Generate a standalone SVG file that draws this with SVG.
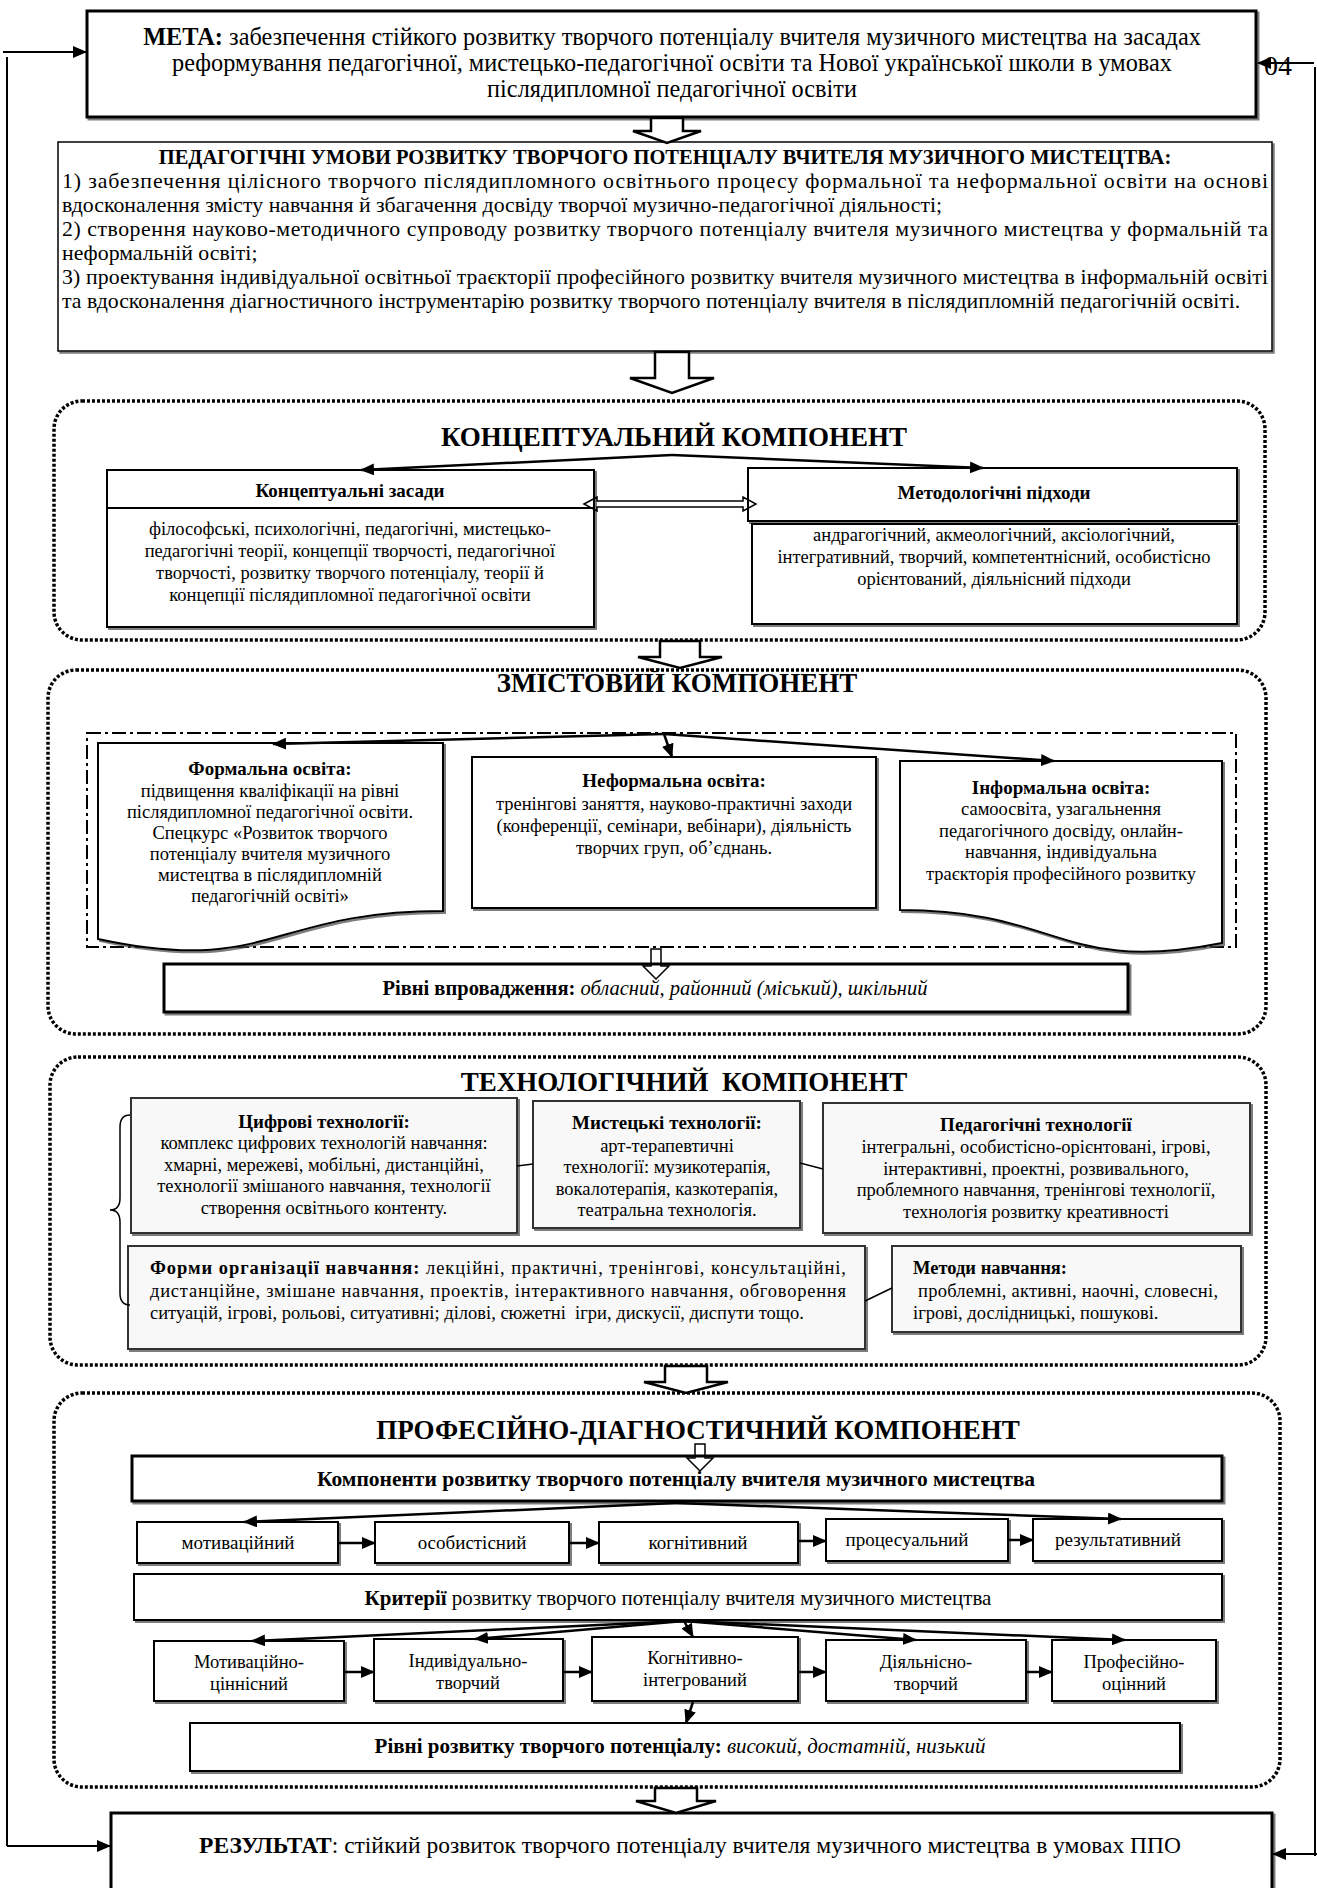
<svg xmlns="http://www.w3.org/2000/svg" width="1317" height="1888" viewBox="0 0 1317 1888">
<defs>
<style>
text{font-family:"Liberation Serif","Times New Roman",serif;fill:#000}
.b{font-weight:bold}
.i{font-style:italic}
.m{text-anchor:middle}
.box{fill:#fff;stroke:#000;stroke-width:2;filter:url(#sh)}
.thk{fill:#fff;stroke:#000;stroke-width:3;filter:url(#sh)}
.tb{fill:#f8f8f8;stroke:#333;stroke-width:2;filter:url(#sh)}
.dot{fill:none;stroke:#000;stroke-width:3.5;stroke-dasharray:3 2}
.dd{fill:none;stroke:#000;stroke-width:2;stroke-dasharray:14 4 3 4}
.con{fill:none;stroke:#000;stroke-width:2.5}
.thin{fill:none;stroke:#000;stroke-width:1.5}
.fb{fill:none;stroke:#000;stroke-width:2}
.blk{fill:#fff;stroke:#000;stroke-width:2.5}
.f18{font-size:18.5px}
.f19{font-size:19px}
.f20{font-size:20.5px}
.f21{font-size:21px}
.ped{font-size:21.8px}
.ttl{font-size:27px;font-weight:bold}
</style>
<filter id="sh" x="-5%" y="-10%" width="115%" height="130%"><feDropShadow dx="2" dy="2" stdDeviation="0.6" flood-color="#444" flood-opacity="0.7"/></filter>
<marker id="ah" viewBox="0 0 14 12" refX="13" refY="6" markerWidth="14" markerHeight="12" markerUnits="userSpaceOnUse" orient="auto"><path d="M0,0 L14,6 L0,12 z" fill="#000"/></marker>
</defs>
<rect width="1317" height="1888" fill="#fff"/>

<g id="meta">
  <rect class="thk" x="87" y="11" width="1169" height="106"/>
  <text class="m" x="672" y="45" style="font-size:24.3px"><tspan class="b">МЕТА:</tspan> забезпечення стійкого розвитку творчого потенціалу вчителя музичного мистецтва на засадах</text>
  <text class="m" x="672" y="71" style="font-size:24.3px">реформування педагогічної, мистецько-педагогічної освіти та Нової української школи в умовах</text>
  <text class="m" x="672" y="97" style="font-size:24.3px">післядипломної педагогічної освіти</text>
</g>
<g id="page-number">
  <text x="1264" y="75" style="font-size:28px">04</text>
</g>

<g id="conditions">
  <rect class="box" x="58" y="142" width="1214" height="209" style="stroke-width:1.5"/>
  <text class="m b f20" x="665" y="164">ПЕДАГОГІЧНІ УМОВИ РОЗВИТКУ ТВОРЧОГО ПОТЕНЦІАЛУ ВЧИТЕЛЯ МУЗИЧНОГО МИСТЕЦТВА:</text>
  <text class="ped" x="62" y="188" textLength="1206" lengthAdjust="spacing">1) забезпечення цілісного творчого післядипломного освітнього процесу формальної та неформальної освіти на основі</text>
  <text class="ped" x="62" y="212">вдосконалення змісту навчання й збагачення досвіду творчої музично-педагогічної діяльності;</text>
  <text class="ped" x="62" y="236" textLength="1206" lengthAdjust="spacing">2) створення науково-методичного супроводу розвитку творчого потенціалу вчителя музичного мистецтва у формальній та</text>
  <text class="ped" x="62" y="260">неформальній освіті;</text>
  <text class="ped" x="62" y="284" textLength="1206" lengthAdjust="spacing">3) проектування індивідуальної освітньої траєкторії професійного розвитку вчителя музичного мистецтва в інформальній освіті</text>
  <text class="ped" x="62" y="308">та вдосконалення діагностичного інструментарію розвитку творчого потенціалу вчителя в післядипломній педагогічній освіті.</text>
</g>

<g id="conceptual">
  <rect class="dot" x="54" y="401" width="1211" height="239" rx="28"/>
  <text class="m ttl" x="674" y="446">КОНЦЕПТУАЛЬНИЙ КОМПОНЕНТ</text>
</g>
<g id="conceptual-basis">
  <rect class="box" x="107" y="470" width="487" height="38"/>
  <rect class="box" x="107" y="508" width="487" height="119"/>
  <text class="m b f19" x="350" y="497">Концептуальні засади</text>
  <text class="m f18" x="350" y="535">філософські, психологічні, педагогічні, мистецько-</text>
  <text class="m f18" x="350" y="557">педагогічні теорії, концепції творчості, педагогічної</text>
  <text class="m f18" x="350" y="579">творчості, розвитку творчого потенціалу, теорії й</text>
  <text class="m f18" x="350" y="601">концепції післядипломної педагогічної освіти</text>
</g>
<g id="methodological-approaches">
  <rect class="box" x="748" y="468" width="489" height="53"/>
  <rect class="box" x="752" y="524" width="485" height="100"/>
  <text class="m b f19" x="994" y="499">Методологічні підходи</text>
  <text class="m f18" x="994" y="541">андрагогічний, акмеологічний, аксіологічний,</text>
  <text class="m f18" x="994" y="563">інтегративний, творчий, компетентнісний, особистісно</text>
  <text class="m f18" x="994" y="585">орієнтований, діяльнісний підходи</text>
</g>

<g id="content">
  <rect class="dot" x="48" y="670" width="1218" height="364" rx="28"/>
  <text class="m ttl" x="677" y="692">ЗМІСТОВИЙ КОМПОНЕНТ</text>
  <rect class="dd" x="87" y="733" width="1149" height="214"/>
</g>
<g id="formal">
  <path class="box" d="M98,743 H443 V911 C270,911 270,976 98,939 Z"/>
  <text class="m b f19" x="270" y="775">Формальна освіта:</text>
  <text class="m f18" x="270" y="797">підвищення кваліфікації на рівні</text>
  <text class="m f18" x="270" y="818">післядипломної педагогічної освіти.</text>
  <text class="m f18" x="270" y="839">Спецкурс «Розвиток творчого</text>
  <text class="m f18" x="270" y="860">потенціалу вчителя музичного</text>
  <text class="m f18" x="270" y="881">мистецтва в післядипломній</text>
  <text class="m f18" x="270" y="902">педагогічній освіті»</text>
</g>
<g id="nonformal">
  <rect class="box" x="472" y="757" width="404" height="151"/>
  <text class="m b f19" x="674" y="787">Неформальна освіта:</text>
  <text class="m f18" x="674" y="810">тренінгові заняття, науково-практичні заходи</text>
  <text class="m f18" x="674" y="832">(конференції, семінари, вебінари), діяльність</text>
  <text class="m f18" x="674" y="854">творчих груп, об’єднань.</text>
</g>
<g id="informal">
  <path class="box" d="M900,761 H1222 V943 C1061,975 1061,910 900,910 Z"/>
  <text class="m b f19" x="1061" y="794">Інформальна освіта:</text>
  <text class="m f18" x="1061" y="815">самоосвіта, узагальнення</text>
  <text class="m f18" x="1061" y="837">педагогічного досвіду, онлайн-</text>
  <text class="m f18" x="1061" y="858">навчання, індивідуальна</text>
  <text class="m f18" x="1061" y="880">траєкторія професійного розвитку</text>
</g>
<g id="implementation-levels">
  <rect class="thk" x="164" y="964" width="964" height="48"/>
  <text class="m f20" x="655" y="995"><tspan class="b">Рівні впровадження:</tspan> <tspan class="i">обласний, районний (міський), шкільний</tspan></text>
</g>

<g id="technological">
  <rect class="dot" x="50" y="1057" width="1216" height="308" rx="28"/>
  <text class="m ttl" x="684" y="1091" xml:space="preserve">ТЕХНОЛОГІЧНИЙ  КОМПОНЕНТ</text>
</g>
<g id="digital-tech">
  <rect class="tb" x="131" y="1098" width="386" height="135"/>
  <text class="m b f19" x="324" y="1128">Цифрові технології:</text>
  <text class="m f18" x="324" y="1149">комплекс цифрових технологій навчання:</text>
  <text class="m f18" x="324" y="1171">хмарні, мережеві, мобільні, дистанційні,</text>
  <text class="m f18" x="324" y="1192">технології змішаного навчання, технології</text>
  <text class="m f18" x="324" y="1214">створення освітнього контенту.</text>
</g>
<g id="art-tech">
  <rect class="tb" x="533" y="1101" width="267" height="127"/>
  <text class="m b f19" x="667" y="1129">Мистецькі технології:</text>
  <text class="m f18" x="667" y="1152">арт-терапевтичні</text>
  <text class="m f18" x="667" y="1173">технології: музикотерапія,</text>
  <text class="m f18" x="667" y="1195">вокалотерапія, казкотерапія,</text>
  <text class="m f18" x="667" y="1216">театральна технологія.</text>
</g>
<g id="pedagogical-tech">
  <rect class="tb" x="823" y="1103" width="427" height="130"/>
  <text class="m b f19" x="1036" y="1131">Педагогічні технології</text>
  <text class="m f18" x="1036" y="1153">інтегральні, особистісно-орієнтовані, ігрові,</text>
  <text class="m f18" x="1036" y="1175">інтерактивні, проектні, розвивального,</text>
  <text class="m f18" x="1036" y="1196">проблемного навчання, тренінгові технології,</text>
  <text class="m f18" x="1036" y="1218">технологія розвитку креативності</text>
</g>
<g id="forms">
  <rect class="tb" x="128" y="1246" width="737" height="103"/>
  <text class="f18" x="150" y="1274" textLength="696" lengthAdjust="spacing"><tspan class="b">Форми організації навчання:</tspan> лекційні, практичні, тренінгові, консультаційні,</text>
  <text class="f18" x="150" y="1297" textLength="696" lengthAdjust="spacing">дистанційне, змішане навчання, проектів, інтерактивного навчання, обговорення</text>
  <text class="f18" x="150" y="1319" xml:space="preserve">ситуацій, ігрові, рольові, ситуативні; ділові, сюжетні  ігри, дискусії, диспути тощо.</text>
</g>
<g id="methods">
  <rect class="tb" x="892" y="1246" width="349" height="86"/>
  <text class="b f18" x="913" y="1274">Методи навчання:</text>
  <text class="f18" x="918" y="1297" textLength="300" lengthAdjust="spacing">проблемні, активні, наочні, словесні,</text>
  <text class="f18" x="913" y="1319">ігрові, дослідницькі, пошукові.</text>
</g>

<g id="diagnostic">
  <rect class="dot" x="54" y="1393" width="1226" height="394" rx="28"/>
  <text class="m ttl" x="698" y="1439">ПРОФЕСІЙНО-ДІАГНОСТИЧНИЙ КОМПОНЕНТ</text>
</g>
<g id="components">
  <rect class="thk" x="132" y="1456" width="1090" height="45"/>
  <text class="m b" x="676" y="1486" style="font-size:21.5px">Компоненти розвитку творчого потенціалу вчителя музичного мистецтва</text>
</g>
<g id="c-motivational"><rect class="box" x="137" y="1522" width="201" height="41"/><text class="m f19" x="238" y="1549">мотиваційний</text></g>
<g id="c-personal"><rect class="box" x="375" y="1522" width="194" height="41"/><text class="m f19" x="472" y="1549">особистісний</text></g>
<g id="c-cognitive"><rect class="box" x="599" y="1522" width="199" height="41"/><text class="m f19" x="698" y="1549">когнітивний</text></g>
<g id="c-procedural"><rect class="box" x="826" y="1519" width="182" height="42"/><text class="m f19" x="907" y="1546">процесуальний</text></g>
<g id="c-resultative"><rect class="box" x="1033" y="1519" width="189" height="42"/><text class="m f19" x="1118" y="1546">результативний</text></g>
<g id="criteria">
  <rect class="box" x="134" y="1574" width="1088" height="46"/>
  <text class="m f21" x="678" y="1605"><tspan class="b">Критерії</tspan> розвитку творчого потенціалу вчителя музичного мистецтва</text>
</g>
<g id="k-motivational"><rect class="box" x="154" y="1641" width="190" height="60"/><text class="m f18" x="249" y="1668">Мотиваційно-</text><text class="m f18" x="249" y="1690">ціннісний</text></g>
<g id="k-individual"><rect class="box" x="374" y="1639" width="189" height="62"/><text class="m f18" x="468" y="1667">Індивідуально-</text><text class="m f18" x="468" y="1689">творчий</text></g>
<g id="k-cognitive"><rect class="box" x="592" y="1637" width="206" height="64"/><text class="m f18" x="695" y="1664">Когнітивно-</text><text class="m f18" x="695" y="1686">інтегрований</text></g>
<g id="k-activity"><rect class="box" x="826" y="1640" width="200" height="61"/><text class="m f18" x="926" y="1668">Діяльнісно-</text><text class="m f18" x="926" y="1690">творчий</text></g>
<g id="k-professional"><rect class="box" x="1052" y="1640" width="164" height="61"/><text class="m f18" x="1134" y="1668">Професійно-</text><text class="m f18" x="1134" y="1690">оцінний</text></g>
<g id="development-levels">
  <rect class="box" x="190" y="1723" width="990" height="48"/>
  <text class="m f21" x="680" y="1753"><tspan class="b">Рівні розвитку творчого потенціалу:</tspan> <tspan class="i">високий, достатній, низький</tspan></text>
</g>

<g id="result">
  <rect class="thk" x="111" y="1813" width="1161" height="100"/>
  <text class="m" x="690" y="1853" style="font-size:23.5px"><tspan class="b">РЕЗУЛЬТАТ</tspan>: стійкий розвиток творчого потенціалу вчителя музичного мистецтва в умовах ППО</text>
</g>

<g id="connectors">
  <!-- feedback loops -->
  <path class="fb" d="M7,1846 V57"/>
  <path class="fb" d="M3,52 H86" marker-end="url(#ah)"/>
  <path class="fb" d="M7,1846 H110" marker-end="url(#ah)"/>
  <path class="fb" d="M1315,1856 V67"/>
  <path class="fb" d="M1314,63 H1258" marker-end="url(#ah)"/>
  <path class="fb" d="M1317,1854 H1273" marker-end="url(#ah)"/>
  <!-- block arrows -->
  <polygon class="blk" points="651,118 683,118 683,131 701,131 667,143 633,131 651,131"/>
  <polygon class="blk" points="655,352 689,352 689,378 714,378 672,393 630,378 655,378"/>
  <polygon class="blk" points="660,641 700,641 700,657 722,657 680,668 638,657 660,657"/>
  <polygon class="blk" points="665,1366 707,1366 707,1382 728,1382 686,1393 644,1382 665,1382"/>
  <polygon class="blk" points="655,1788 697,1788 697,1801 716,1801 676,1813 636,1801 655,1801"/>
  <!-- small hollow arrows -->
  <polygon class="thin" fill="#fff" points="651,949 661,949 661,966 669,966 656,979 643,966 651,966"/>
  <polygon class="thin" fill="#fff" points="695,1444 705,1444 705,1458 713,1458 700,1471 687,1458 695,1458"/>
  <!-- conceptual -->
  <path class="con" d="M672,455 L361,470" marker-end="url(#ah)"/>
  <path class="con" d="M672,455 L983,468" marker-end="url(#ah)"/>
  <polygon class="thin" fill="#fff" points="584,504 597,497 597,501 743,501 743,497 756,504 743,511 743,507 597,507 597,511"/>
  <!-- content -->
  <path class="con" d="M664,734 L273,744" marker-end="url(#ah)"/>
  <path class="con" d="M664,734 L672,757" marker-end="url(#ah)"/>
  <path class="con" d="M664,734 L1054,761" marker-end="url(#ah)"/>
  <!-- technological -->
  <path class="thin" d="M517,1166 L533,1164"/>
  <path class="thin" d="M800,1163 L823,1169"/>
  <path class="thin" d="M865,1301 L892,1288"/>
  <path class="thin" d="M130,1115 Q120,1115 120,1127 V1198 Q120,1210 110,1210 Q120,1210 120,1222 V1293 Q120,1305 130,1305"/>
  <!-- professional-diagnostic -->
  <path class="con" d="M676,1503 L244,1522" marker-end="url(#ah)"/>
  <path class="con" d="M676,1503 L1121,1519" marker-end="url(#ah)"/>
  <path class="con" d="M338,1543 H375" marker-end="url(#ah)"/>
  <path class="con" d="M569,1543 H599" marker-end="url(#ah)"/>
  <path class="con" d="M798,1541 H826" marker-end="url(#ah)"/>
  <path class="con" d="M1008,1540 H1033" marker-end="url(#ah)"/>
  <path class="con" d="M684,1621 L252,1641" marker-end="url(#ah)"/>
  <path class="con" d="M684,1621 L475,1639" marker-end="url(#ah)"/>
  <path class="con" d="M684,1621 L693,1637" marker-end="url(#ah)"/>
  <path class="con" d="M684,1621 L916,1640" marker-end="url(#ah)"/>
  <path class="con" d="M684,1621 L1125,1640" marker-end="url(#ah)"/>
  <path class="con" d="M344,1672 H374" marker-end="url(#ah)"/>
  <path class="con" d="M563,1672 H592" marker-end="url(#ah)"/>
  <path class="con" d="M798,1672 H826" marker-end="url(#ah)"/>
  <path class="con" d="M1026,1672 H1052" marker-end="url(#ah)"/>
  <path class="con" d="M693,1702 L686,1723" marker-end="url(#ah)"/>
</g>
</svg>
